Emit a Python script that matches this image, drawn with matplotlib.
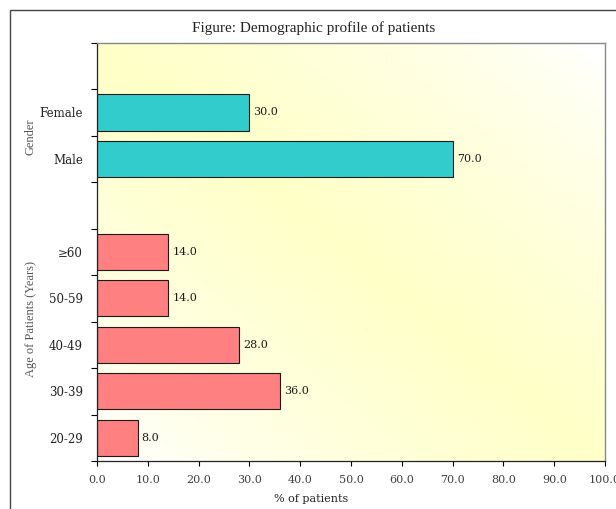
import numpy as np
import matplotlib.pyplot as plt
from matplotlib.patches import Rectangle

plt.rcParams["font.family"] = ["Liberation Serif", "DejaVu Serif"]
WIDE = ["DejaVu Serif"]

# Rows from bottom to top; blank strings are spacer rows
categories = ["20-29", "30-39", "40-49", "50-59", "\u226560", "", "Male", "Female", ""]
values = [8.0, 36.0, 28.0, 14.0, 14.0, None, 70.0, 30.0, None]
group = ["age", "age", "age", "age", "age", None, "gender", "gender", None]

GROUP_COLORS = {"age": "#FF8080", "gender": "#33CCCC"}
x_ticks = [0, 10, 20, 30, 40, 50, 60, 70, 80, 90, 100]

TITLE = "Figure: Demographic profile of patients"
X_LABEL = "% of patients"
GENDER_LABEL = "Gender"
AGE_LABEL = "Age of Patients (Years)"

W, H = 616, 509
fig = plt.figure(figsize=(W / 100, H / 100), dpi=100)
ax = fig.add_axes([97 / W, 1 - 461 / H, 508 / W, (461 - 42.7) / H])

# Yellow diagonal wash behind the bars
nx, ny = 400, 330
xs = np.linspace(0, 1, nx)
ys = np.linspace(0, 1, ny)
gx, gy = np.meshgrid(xs, ys)
d = np.abs(gx + gy - 1.0)
t = np.clip(1 - d / 0.95, 0, 1) ** 0.7
yellow = np.array([255, 255, 200]) / 255
white = np.array([255, 255, 255]) / 255
img = white + (yellow - white) * t[..., None]
ax.imshow(img, extent=[0, 100, 0, len(categories)], origin="lower",
          aspect="auto", zorder=0, interpolation="bilinear")

pos = np.arange(len(categories)) + 0.5
for p, v, g in zip(pos, values, group):
    if v is None:
        continue
    ax.barh(p, v, height=0.78, color=GROUP_COLORS[g], edgecolor="#1a1a1a",
            linewidth=0.8, zorder=2)
    ax.text(v + 0.8, p, f"{v:.1f}", fontsize=8, family=WIDE, color="#1a1a1a",
            ha="left", va="center", zorder=3)

ax.set_xlim(0, 100)
ax.set_ylim(0, len(categories))

ax.set_xticks(x_ticks)
ax.set_xticklabels([f"{x:.1f}" for x in x_ticks], family=WIDE)
ax.tick_params(axis="x", direction="out", length=3.5, width=0.8,
               pad=6.5, labelsize=8, labelcolor="#404040")

ax.set_yticks(np.arange(len(categories) + 1))
ax.set_yticklabels([])
ax.set_yticks(pos, minor=True)
ax.set_yticklabels(categories, minor=True, family=WIDE)
ax.tick_params(axis="y", which="major", direction="out", length=4, width=0.8)
ax.tick_params(axis="y", which="minor", length=0, pad=10, labelsize=8.5,
               labelcolor="#222222")

for side in ["left", "bottom"]:
    ax.spines[side].set_color("#222222")
    ax.spines[side].set_linewidth(0.9)
for side in ["top", "right"]:
    ax.spines[side].set_color("#888888")
    ax.spines[side].set_linewidth(1.0)

fig.text(314 / W, 1 - 28 / H, TITLE, fontsize=11, ha="center", va="center",
         color="#222222")
fig.text(311 / W, 1 - 499 / H, X_LABEL, fontsize=8, family=WIDE,
         ha="center", va="center", color="#222222")
fig.text(31 / W, 1 - 137 / H, GENDER_LABEL, fontsize=9, rotation=90,
         ha="center", va="center", color="#555555")
fig.text(31 / W, 1 - 319 / H, AGE_LABEL, fontsize=9, rotation=90,
         ha="center", va="center", color="#555555")

# Outer frame running off the right and bottom edges
fig.patches.append(Rectangle((9.5 / W, -0.1), 1.2, 1 - 9.5 / H + 0.1,
                             transform=fig.transFigure, fill=False,
                             edgecolor="#444444", linewidth=1.0))

fig.savefig("out.png", dpi=100)
